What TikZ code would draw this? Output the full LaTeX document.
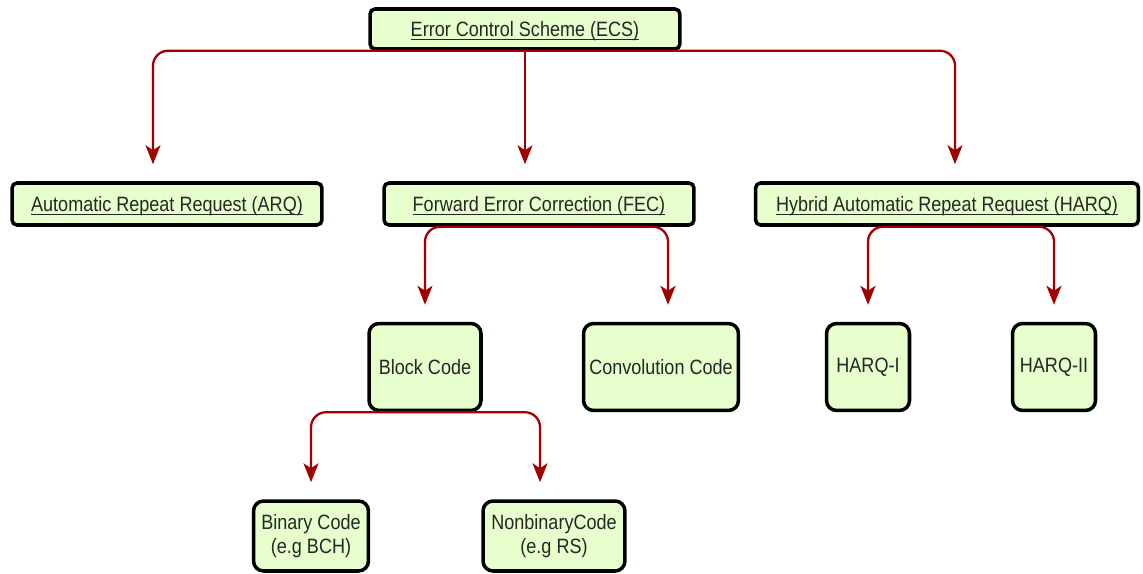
\documentclass[tikz,border=0pt]{standalone}
\usepackage{fontspec}
\setmainfont{Liberation Sans}[FakeStretch=0.87]
\usetikzlibrary{arrows.meta,positioning}
\usepackage{xcolor}
\definecolor{boxfill}{HTML}{E6FFCC}
\definecolor{linkred}{HTML}{A30000}
\newcommand\ulabel[1]{\underline{\smash{#1}}}
\tikzset{
  box/.style={draw=black, fill=boxfill, line width=2pt, rounded corners=0.2cm, inner sep=0pt,
    align=center, text=black!85, font=\fontsize{11.8}{13.5}\selectfont},
  widebox/.style={box, rounded corners=0.1cm, minimum height=0.84cm, text height=10pt, text depth=1.5pt},
  tallbox/.style={box, minimum height=1.74cm},
  leafbox/.style={box, minimum height=1.4cm},
  link/.style={draw=linkred, line width=1.3pt, rounded corners=0.3cm,
    -{Stealth[length=0.38cm,width=0.3cm,inset=0.1cm]}, shorten >=0.34cm},
}

\begin{document}
\begin{tikzpicture}[x=0.02cm,y=-0.02cm]
  \useasboundingbox (0,0) rectangle (1143,574);
  % top level
  \node [widebox, minimum width=6.2cm, minimum height=0.8cm] (ecs) at (525,29) {\ulabel{Error Control Scheme (ECS)}};
  \node [widebox, minimum width=6.2cm] (arq) at (167,204) {\ulabel{Automatic Repeat Request (ARQ)}};
  \node [widebox, minimum width=6.2cm] (fec) at (539,204) {\ulabel{Forward Error Correction (FEC)}};
  \node [widebox, minimum width=7.66cm] (harq) at (947,204) {\ulabel{Hybrid Automatic Repeat Request (HARQ)}};
  % second level
  \node [tallbox, minimum width=2.24cm] (block) at (425,367) {Block Code};
  \node [tallbox, minimum width=3.1cm] (conv) at (661,367) {Convolution Code};
  \node [tallbox, minimum width=1.66cm] (harqi) at (868,367) {HARQ-I};
  \node [tallbox, minimum width=1.66cm] (harqii) at (1054,367) {HARQ-II};
  % third level
  \node [leafbox, minimum width=2.3cm] (binary) at (311,536) {Binary Code\\(e.g BCH)};
  \node [leafbox, minimum width=2.84cm] (nonbin) at (554,536) {NonbinaryCode\\(e.g RS)};
  % links
  \draw[link] (ecs.south) -| ([xshift=-0.28cm]arq.north);
  \draw[link] (ecs.south) -- (ecs.south |- fec.north);
  \draw[link] (ecs.south) -| ([xshift=0.16cm]harq.north);
  \draw[link] (fec.south) -| (block.north);
  \draw[link] (fec.south) -| ([xshift=0.14cm]conv.north);
  \draw[link] (harq.south) -| (harqi.north);
  \draw[link] (harq.south) -| (harqii.north);
  \draw[link] (block.south) -| (binary.north);
  \draw[link] (block.south) -| ([xshift=-0.28cm]nonbin.north);
\end{tikzpicture}
\end{document}
